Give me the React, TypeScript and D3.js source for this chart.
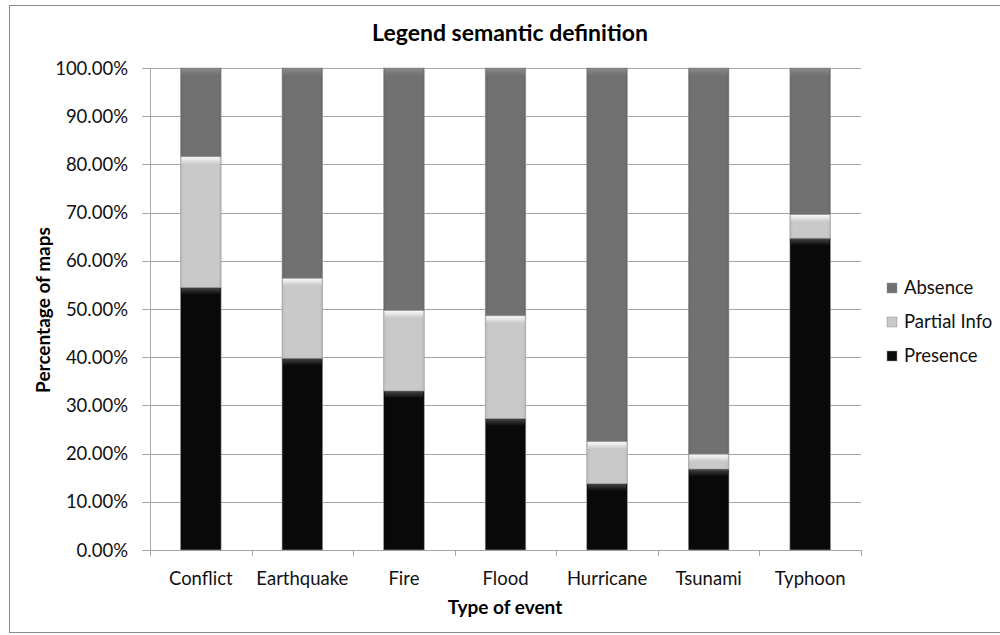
import React from "react";
import * as d3 from "d3";

const categories = ["Conflict", "Earthquake", "Fire", "Flood", "Hurricane", "Tsunami", "Typhoon"];
const presence = [54.5, 39.8, 33.0, 27.3, 13.8, 16.8, 64.7];
const partialInfo = [27.1, 16.6, 16.7, 21.3, 8.7, 3.1, 4.9];
const absence = [18.4, 43.6, 50.3, 51.4, 77.5, 80.1, 30.4];
const seriesNames = ["Presence", "Partial Info", "Absence"];
const yTicks = [0, 10, 20, 30, 40, 50, 60, 70, 80, 90, 100];

const colors: Record<string, string> = {
  Presence: "#090909",
  "Partial Info": "#c9c9c9",
  Absence: "#717171",
};
const topEdge: Record<string, string> = {
  Presence: "#4a4a4a",
  "Partial Info": "#ffffff",
  Absence: "#8c8c8c",
};

const W = 1000;
const H = 635;
const left = 150;
const right = 861;
const top = 68;
const bottom = 550;
const FONT = "Lato, 'Open Sans', sans-serif";
const TICK_FS = 18.5;

export default function App() {
  const x = d3.scaleBand<string>().domain(categories).range([left, right]).paddingInner(0.6).paddingOuter(0.3);
  const xb = d3.scaleBand<string>().domain(categories).range([left, right]).padding(0);
  const y = d3.scaleLinear().domain([0, 100]).range([bottom, top]);

  const table = categories.map((c, i) => ({
    cat: c,
    Presence: presence[i],
    "Partial Info": partialInfo[i],
    Absence: absence[i],
  }));
  const stacked = d3.stack<any>().keys(seriesNames)(table);

  const bw = x.bandwidth();

  return (
    <svg width={W} height={H} style={{ position: "absolute", left: 0, top: 0, background: "#fff" }}>
      <defs>
        {seriesNames.map((s, k) => (
          <linearGradient key={s} id={`g${k}`} x1="0" x2="1" y1="0" y2="0">
            <stop offset="0" stopColor={d3.color(colors[s])!.darker(0.25).toString()} />
            <stop offset="0.08" stopColor={colors[s]} />
            <stop offset="0.92" stopColor={colors[s]} />
            <stop offset="1" stopColor={d3.color(colors[s])!.darker(0.25).toString()} />
          </linearGradient>
        ))}
        {seriesNames.map((s, k) => (
          <linearGradient key={s} id={`t${k}`} x1="0" x2="0" y1="0" y2="1">
            <stop offset="0" stopColor={topEdge[s]} />
            <stop offset="1" stopColor={colors[s]} />
          </linearGradient>
        ))}
      </defs>
      <rect x={9.5} y={5.5} width={1000} height={627} fill="#fff" stroke="#8a8a8a" strokeWidth={1} />

      {/* gridlines */}
      {yTicks.map((t) => (
        <line key={t} x1={left - 8} x2={right} y1={Math.round(y(t)) + 0.5} y2={Math.round(y(t)) + 0.5} stroke="#a6a6a6" strokeWidth={1} />
      ))}
      {/* y axis */}
      <line x1={left + 0.5} x2={left + 0.5} y1={top} y2={bottom} stroke="#a6a6a6" />
      {/* x ticks */}
      {categories.map((c) => (
        <line key={c} x1={Math.round(xb(c)!) + 0.5} x2={Math.round(xb(c)!) + 0.5} y1={bottom} y2={bottom + 6} stroke="#a6a6a6" />
      ))}
      <line x1={right + 0.5} x2={right + 0.5} y1={bottom} y2={bottom + 6} stroke="#a6a6a6" />

      {/* bars */}
      {stacked.map((layer, k) =>
        layer.map((d, i) => {
          const x0 = x(categories[i])!;
          const y1 = y(d[1]);
          const y0 = y(d[0]);
          const h = y0 - y1;
          const edge = Math.min(7, h / 2);
          return (
            <g key={`${k}-${i}`}>
              <rect x={x0} y={y1} width={bw} height={h} fill={`url(#g${k})`} stroke="#9a9a9a" strokeWidth={0.6} />
              <rect x={x0 + 1} y={y1 + 0.5} width={bw - 2} height={edge} fill={`url(#t${k})`} opacity={0.9} />
            </g>
          );
        })
      )}

      {/* y tick labels */}
      {yTicks.map((t) => (
        <text key={t} x={128} y={y(t)} dy="0.36em" textAnchor="end" fontFamily={FONT} fontSize={TICK_FS} fill="#111">
          {d3.format(".2f")(t) + "%"}
        </text>
      ))}
      {/* x tick labels */}
      {categories.map((c) => (
        <text key={c} x={xb(c)! + xb.bandwidth() / 2} y={585} textAnchor="middle" fontFamily={FONT} fontSize={TICK_FS} fill="#111">
          {c}
        </text>
      ))}

      {/* titles */}
      <text x={510} y={41} textAnchor="middle" fontFamily={FONT} fontWeight="bold" fontSize={23} fill="#000">
        Legend semantic definition
      </text>
      <text x={505} y={614} textAnchor="middle" fontFamily={FONT} fontWeight="bold" fontSize={19} fill="#000">
        Type of event
      </text>
      <text transform={`translate(50,310) rotate(-90)`} textAnchor="middle" fontFamily={FONT} fontWeight="bold" fontSize={19} fill="#000">
        Percentage of maps
      </text>

      {/* legend */}
      {[...seriesNames].reverse().map((s, i) => {
        const k = seriesNames.indexOf(s);
        const ly = 294 + i * 34;
        return (
          <g key={s}>
            <rect x={887} y={ly - 11} width={10} height={10} fill={`url(#g${k})`} stroke="#999" strokeWidth={0.5} />
            <text x={904} y={ly} fontFamily={FONT} fontSize={TICK_FS} fill="#111">
              {s}
            </text>
          </g>
        );
      })}
    </svg>
  );
}
